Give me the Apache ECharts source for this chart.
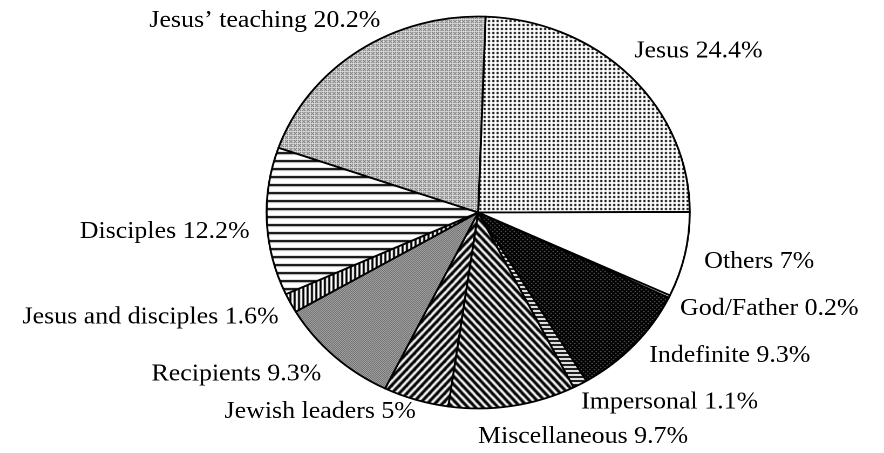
<!DOCTYPE html>
<html>
<head>
<meta charset="utf-8">
<script src="https://cdn.jsdelivr.net/npm/echarts@6/dist/echarts.min.js"></script>
<style>
html,body{margin:0;padding:0;background:#fff;overflow:hidden}
#wrap{width:884px;height:453px;overflow:hidden;position:relative}
#chart{width:819px;height:453px;transform:scaleX(1.0794);transform-origin:0 0}
</style>
</head>
<body>
<div id="wrap"><div id="chart"></div></div>
<script>
// ---- data ----
const categories = ["Jesus", "Others", "God/Father", "Indefinite", "Impersonal", "Miscellaneous",
  "Jewish leaders", "Recipients", "Jesus and disciples", "Disciples", "Jesus\u2019 teaching"];
const values = [24.4, 7, 0.2, 9.3, 1.1, 9.7, 5, 9.3, 1.6, 12.2, 20.2];

// ---- style: label nudges (dx, dy) relative to the slice edge ----
const labelShift = [[4,-25],[18,7],[10,12],[14,11],[1,18],[-32,31],[0,12],[-12,18],[-11,14],[-16,10],[20,-30]];

// ---- pattern helpers ----
function tile(w, h) { const c = document.createElement('canvas'); c.width = w; c.height = h; return c; }
const bayer = [[0,8,2,10],[12,4,14,6],[3,11,1,9],[15,7,13,5]];
function dither(level, fg, bg) {
  const c = tile(4,4), g = c.getContext('2d');
  g.fillStyle = bg; g.fillRect(0,0,4,4); g.fillStyle = fg;
  for (let y=0;y<4;y++) for (let x=0;x<4;x++) if (bayer[y][x] < level) g.fillRect(x,y,1,1);
  return c;
}
function dots(p, s) {
  const c = tile(p,p), g = c.getContext('2d');
  g.fillStyle = '#fff'; g.fillRect(0,0,p,p); g.fillStyle = '#000'; g.fillRect(0,0,s,s); return c;
}
function hStripes(p, t) {
  const c = tile(p,p), g = c.getContext('2d');
  g.fillStyle = '#fff'; g.fillRect(0,0,p,p); g.fillStyle = '#000'; g.fillRect(0,0,p,t); return c;
}
function vStripes(p, t) {
  const c = tile(p,p), g = c.getContext('2d');
  g.fillStyle = '#fff'; g.fillRect(0,0,p,p); g.fillStyle = '#000'; g.fillRect(0,0,t,p); return c;
}
function diag(w, h, t, up) {
  const c = tile(w,h), g = c.getContext('2d');
  g.fillStyle = '#fff'; g.fillRect(0,0,w,h);
  g.strokeStyle = '#000'; g.lineWidth = t; g.lineCap = 'square';
  for (let k = -1; k <= 1; k++) {
    g.beginPath();
    if (up) { g.moveTo(k*w, h); g.lineTo(k*w + w, 0); }
    else { g.moveTo(k*w, 0); g.lineTo(k*w + w, h); }
    g.stroke();
  }
  return c;
}
function pat(c) { return { image: c, repeat: 'repeat' }; }

const fills = [
  pat(dots(4, 2)),               // Jesus
  '#ffffff',                     // Others
  '#ffffff',                     // God/Father
  pat(dither(14, '#000', '#8a8a8a')), // Indefinite
  pat(hStripes(4, 2)),           // Impersonal
  pat(diag(7, 8, 2.9, false)),   // Miscellaneous
  pat(diag(7, 8, 2.9, true)),    // Jewish leaders
  pat(dither(8, '#333', '#e2e2e2')),  // Recipients
  pat(vStripes(4, 2)),           // Jesus and disciples
  pat(hStripes(8, 2.2)),         // Disciples
  pat(dither(5, '#444', '#e8e8e8'))   // Jesus' teaching
];

const pieData = categories.map((name, i) => ({
  name: name,
  value: values[i],
  itemStyle: { color: fills[i] }
}));

const chart = echarts.init(document.getElementById('chart'), null, { renderer: 'canvas', devicePixelRatio: 2 });
chart.setOption({
  animation: false,
  backgroundColor: '#fff',
  series: [{
    type: 'pie',
    center: [443, 212.5],
    radius: 196,
    startAngle: 88,
    clockwise: true,
    avoidLabelOverlap: false,
    data: pieData,
    itemStyle: { borderColor: '#000', borderWidth: 1.8 },
    emphasis: { disabled: true },
    label: {
      show: true,
      position: 'outside',
      distanceToLabelLine: 0,
      formatter: p => p.name + ' ' + p.value + '%',
      fontFamily: 'Liberation Serif',
      fontSize: 24,
      color: '#000'
    },
    labelLine: { show: false, length: 0, length2: 0 },
    labelLayout: function (params) {
      const s = labelShift[params.dataIndex];
      return { dx: s[0], dy: s[1] };
    }
  }]
});
</script>
</body>
</html>
